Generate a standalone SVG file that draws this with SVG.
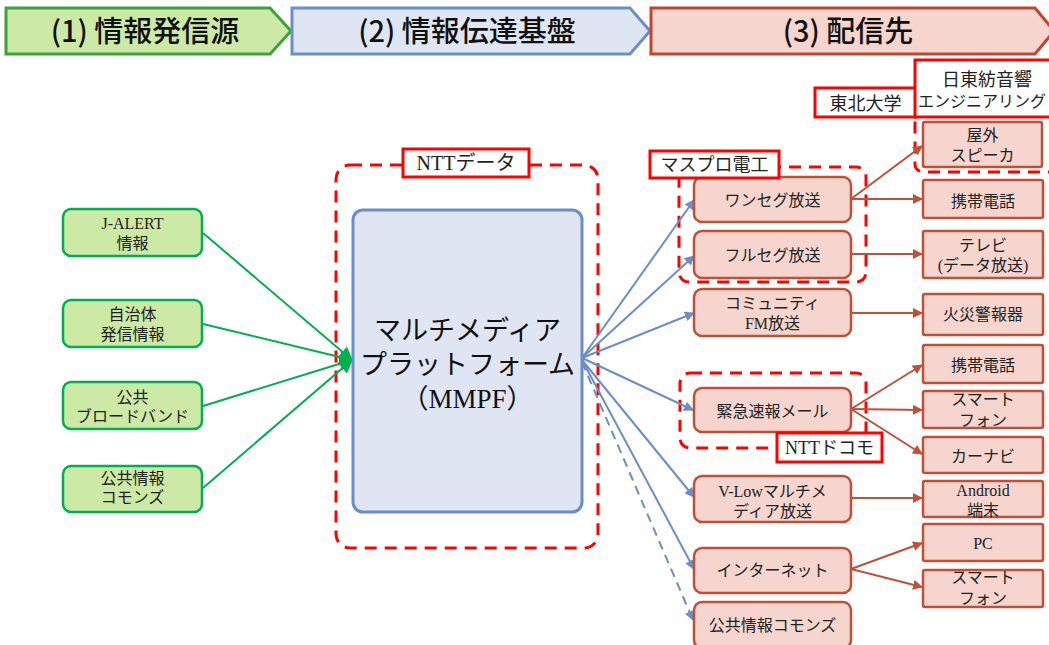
<svg xmlns="http://www.w3.org/2000/svg" width="1049" height="645" viewBox="0 0 1049 645">
<defs>
<style>
.hdr{font-family:"Noto Sans CJK JP","Noto Sans",sans-serif;font-size:29px;font-weight:500;fill:#111;text-anchor:middle}
.t{font-family:"Liberation Serif","Noto Sans CJK JP",serif;font-size:16px;fill:#222;text-anchor:middle}
.big{font-family:"Liberation Serif","Noto Sans CJK JP",serif;font-size:27px;fill:#111;text-anchor:middle}
.lbl{font-family:"Liberation Serif","Noto Sans CJK JP",serif;font-size:18px;fill:#222;text-anchor:middle}
.gn{fill:#CDE9A6;stroke:#00B050;stroke-width:2.5}
.pk{fill:#F5D5CD;stroke:#C0503A;stroke-width:2.5}
.mm{fill:#DFE5F2;stroke:#6C8EC6;stroke-width:3}
.dash{fill:none;stroke:#FF0000;stroke-width:3;stroke-dasharray:12 8}
.lb{fill:#FFFFFF;stroke:#FF0000;stroke-width:3}
.cg{stroke:#00B050;stroke-width:2;fill:none;marker-end:url(#ag)}
.cb{stroke:#6C8EC6;stroke-width:2;fill:none;marker-end:url(#ab)}
.cr{stroke:#C0503A;stroke-width:2;fill:none;marker-end:url(#ar)}
</style>
<marker id="ag" viewBox="0 0 10 10" refX="9" refY="5" markerWidth="7" markerHeight="7" orient="auto" markerUnits="strokeWidth"><path d="M0,0 L10,5 L0,10 z" fill="#00B050"/></marker>
<marker id="ab" viewBox="0 0 10 10" refX="9" refY="5" markerWidth="5" markerHeight="5" orient="auto" markerUnits="strokeWidth"><path d="M0,0 L10,5 L0,10 z" fill="#6C8EC6"/></marker>
<marker id="ar" viewBox="0 0 10 10" refX="9" refY="5" markerWidth="5" markerHeight="5" orient="auto" markerUnits="strokeWidth"><path d="M0,0 L10,5 L0,10 z" fill="#C0503A"/></marker>
</defs>
<rect width="1049" height="645" fill="#FFFFFF"/>

<g id="header">
<polygon points="6,8 270,8 291,31 270,54 6,54" fill="#CCEAA6" stroke="#3DA23D" stroke-width="3"/>
<text class="hdr" x="145" y="42">(1) 情報発信源</text>
<polygon points="292,8 630,8 650,31 630,54 292,54" fill="#DFE6F3" stroke="#6C8EC6" stroke-width="3"/>
<text class="hdr" x="467" y="42">(2) 情報伝達基盤</text>
<polygon points="651,8 1035,8 1054,31 1035,54 651,54" fill="#F5D5CD" stroke="#C0472E" stroke-width="3"/>
<text class="hdr" x="848" y="42">(3) 配信先</text>
</g>

<g id="groups">
<rect class="dash" x="336" y="165" width="262" height="383" rx="14"/>
<rect class="dash" x="679" y="167" width="187" height="115" rx="10"/>
<rect class="dash" x="680" y="373" width="186" height="75" rx="10"/>
<rect class="dash" x="915" y="112" width="150" height="60" rx="8"/>
</g>

<g id="connectors">
<line class="cg" x1="203" y1="233" x2="352" y2="360"/>
<line class="cg" x1="203" y1="324" x2="352" y2="360"/>
<line class="cg" x1="203" y1="406" x2="352" y2="360"/>
<line class="cg" x1="203" y1="488" x2="352" y2="360"/>
<line class="cb" x1="582" y1="358" x2="694" y2="200"/>
<line class="cb" x1="582" y1="358" x2="694" y2="256"/>
<line class="cb" x1="582" y1="358" x2="694" y2="313"/>
<line class="cb" x1="582" y1="358" x2="693" y2="410"/>
<line class="cb" x1="582" y1="360" x2="694" y2="497"/>
<line class="cb" x1="582" y1="360" x2="694" y2="569"/>
<line class="cb" x1="582" y1="362" x2="693" y2="620" stroke-dasharray="9 6"/>
<line class="cr" x1="851" y1="199" x2="922" y2="146"/>
<line class="cr" x1="851" y1="199" x2="922" y2="199"/>
<line class="cr" x1="851" y1="254" x2="922" y2="254"/>
<line class="cr" x1="851" y1="313" x2="922" y2="313"/>
<line class="cr" x1="851" y1="409" x2="922" y2="365"/>
<line class="cr" x1="851" y1="409" x2="922" y2="410"/>
<line class="cr" x1="851" y1="409" x2="922" y2="454"/>
<line class="cr" x1="851" y1="498" x2="922" y2="498"/>
<line class="cr" x1="851" y1="569" x2="922" y2="543"/>
<line class="cr" x1="851" y1="569" x2="922" y2="587"/>
</g>

<g id="n-jalert"><rect class="gn" x="63" y="209" width="139" height="47" rx="8"/><text class="t" x="132.5" y="229">J-ALERT</text><text class="t" x="132.5" y="249">情報</text></g>
<g id="n-jichitai"><rect class="gn" x="63" y="300" width="139" height="47" rx="8"/><text class="t" x="132.5" y="320">自治体</text><text class="t" x="132.5" y="340">発信情報</text></g>
<g id="n-broadband"><rect class="gn" x="63" y="382" width="139" height="47" rx="8"/><text class="t" x="132.5" y="403">公共</text><text class="t" x="132.5" y="422">ブロードバンド</text></g>
<g id="n-commons-src"><rect class="gn" x="63" y="466" width="139" height="46" rx="8"/><text class="t" x="132.5" y="484">公共情報</text><text class="t" x="132.5" y="503">コモンズ</text></g>

<g id="n-mmpf"><rect class="mm" x="353" y="210" width="229" height="302" rx="10"/>
<text class="big" x="467.5" y="340">マルチメディア</text>
<text class="big" x="467.5" y="374">プラットフォーム</text>
<text class="big" x="467.5" y="408">（MMPF）</text></g>

<g id="n-oneseg"><rect class="pk" x="694" y="177" width="157" height="45" rx="8"/><text class="t" x="772.5" y="206">ワンセグ放送</text></g>
<g id="n-fullseg"><rect class="pk" x="694" y="231" width="157" height="47" rx="8"/><text class="t" x="772.5" y="261">フルセグ放送</text></g>
<g id="n-cfm"><rect class="pk" x="694" y="289" width="157" height="47" rx="8"/><text class="t" x="772.5" y="309">コミュニティ</text><text class="t" x="772.5" y="329">FM放送</text></g>
<g id="n-kinkyu"><rect class="pk" x="694" y="388" width="157" height="44" rx="8"/><text class="t" x="772.5" y="417">緊急速報メール</text></g>
<g id="n-vlow"><rect class="pk" x="694" y="476" width="157" height="46" rx="8"/><text class="t" x="772.5" y="497">V-Lowマルチメ</text><text class="t" x="772.5" y="517">ディア放送</text></g>
<g id="n-internet"><rect class="pk" x="694" y="548" width="157" height="45" rx="8"/><text class="t" x="772.5" y="576">インターネット</text></g>
<g id="n-commons-dst"><rect class="pk" x="694" y="602" width="157" height="46" rx="8"/><text class="t" x="772.5" y="631">公共情報コモンズ</text></g>

<g id="n-speaker"><rect class="pk" x="923" y="122" width="119" height="45" rx="2"/><text class="t" x="982.5" y="141">屋外</text><text class="t" x="982.5" y="161">スピーカ</text></g>
<g id="n-phone1"><rect class="pk" x="923" y="180" width="120" height="38" rx="2"/><text class="t" x="983" y="207">携帯電話</text></g>
<g id="n-tv"><rect class="pk" x="923" y="231" width="120" height="47" rx="2"/><text class="t" x="983" y="251">テレビ</text><text class="t" x="983" y="271">(データ放送)</text></g>
<g id="n-fire"><rect class="pk" x="923" y="294" width="120" height="41" rx="2"/><text class="t" x="983" y="320">火災警報器</text></g>
<g id="n-phone2"><rect class="pk" x="923" y="345" width="120" height="38" rx="2"/><text class="t" x="983" y="371">携帯電話</text></g>
<g id="n-smart1"><rect class="pk" x="923" y="391" width="120" height="37" rx="2"/><text class="t" x="983" y="405">スマート</text><text class="t" x="983" y="426">フォン</text></g>
<g id="n-carnavi"><rect class="pk" x="923" y="437" width="120" height="36" rx="2"/><text class="t" x="983" y="462">カーナビ</text></g>
<g id="n-android"><rect class="pk" x="923" y="481" width="120" height="36" rx="2"/><text class="t" x="983" y="496">Android</text><text class="t" x="983" y="516">端末</text></g>
<g id="n-pc"><rect class="pk" x="923" y="524" width="120" height="37" rx="2"/><text class="t" x="983" y="549">PC</text></g>
<g id="n-smart2"><rect class="pk" x="923" y="570" width="120" height="37" rx="2"/><text class="t" x="983" y="583">スマート</text><text class="t" x="983" y="604">フォン</text></g>

<g id="labels">
<g id="l-nttdata"><rect class="lb" x="403" y="149" width="126" height="28"/><text class="lbl" x="466" y="170" style="font-size:20px">NTTデータ</text></g>
<g id="l-maspro"><rect class="lb" x="650" y="151" width="129" height="27"/><text class="lbl" x="714.5" y="171">マスプロ電工</text></g>
<g id="l-docomo"><rect class="lb" x="777" y="433" width="105" height="29"/><text class="lbl" x="829.5" y="454">NTTドコモ</text></g>
<g id="l-tohoku"><rect class="lb" x="815" y="88" width="101" height="29"/><text class="lbl" x="865.5" y="110">東北大学</text></g>
<g id="l-nittobo"><rect class="lb" x="915" y="60" width="145" height="57"/><text class="lbl" x="987" y="86">日東紡音響</text><text class="lbl" x="918" y="107" style="text-anchor:start;font-size:16px">エンジニアリング</text></g>
</g>
</svg>
